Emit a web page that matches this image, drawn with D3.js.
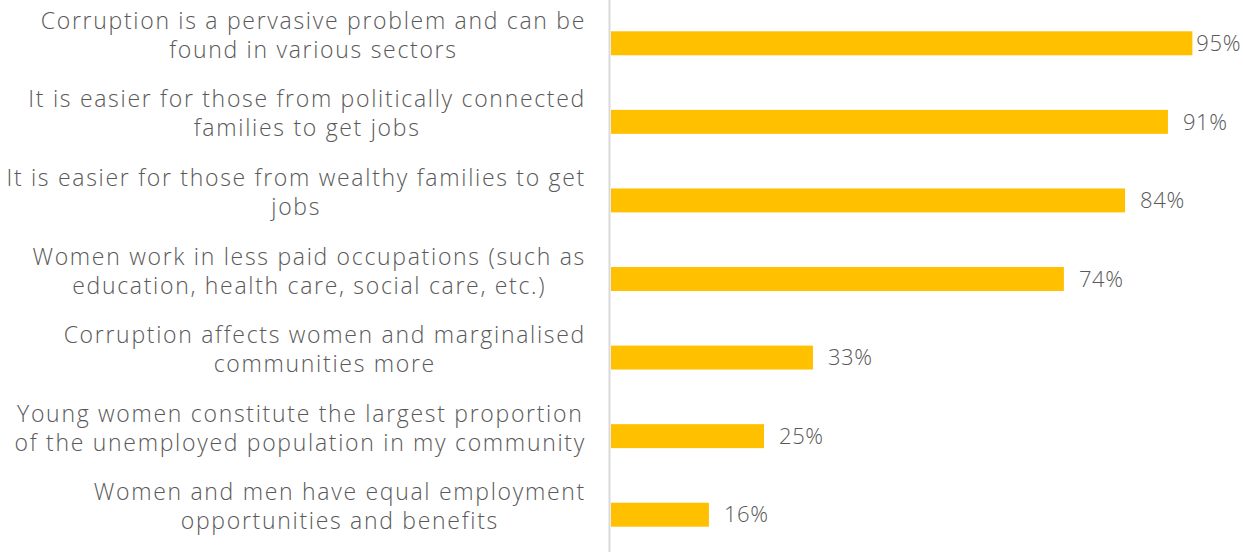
<!DOCTYPE html>
<html>
<head>
<meta charset="utf-8">
<script src="https://cdn.jsdelivr.net/npm/d3@7"></script>
<style>
  html, body { margin: 0; padding: 0; background: #fff; }
  svg { display: block; }
  text { font-family: "Open Sans", "DejaVu Sans", sans-serif; fill: #595959; font-weight: 300; }
</style>
</head>
<body>
<svg id="chart" width="1243" height="552"></svg>
<script>
// Survey statements (each split into its display lines) and share agreeing
const statements = [
  ["Corruption is a pervasive problem and can be", "found in various sectors"],
  ["It is easier for those from politically connected", "families to get jobs"],
  ["It is easier for those from wealthy families to get", "jobs"],
  ["Women work in less paid occupations (such as", "education, health care, social care, etc.)"],
  ["Corruption affects women and marginalised", "communities more"],
  ["Young women constitute the largest proportion", "of the unemployed population in my community"],
  ["Women and men have equal employment", "opportunities and benefits"]
];
const shares = [95, 91, 84, 74, 33, 25, 16];

const W = 1243, H = 552;
const svg = d3.select("#chart");

const x = d3.scaleLinear().domain([0, 100]).range([611, 1223]);
const y = d3.scaleBand()
  .domain(d3.range(statements.length))
  .range([4, 554])
  .paddingInner(0.695)
  .paddingOuter(0.3475);

// vertical category axis line
svg.append("line")
  .attr("x1", 609.5).attr("x2", 609.5)
  .attr("y1", 0).attr("y2", H)
  .attr("stroke", "#d9d9d9").attr("stroke-width", 2);

// bars
svg.selectAll("rect.bar")
  .data(shares)
  .join("rect")
  .attr("class", "bar")
  .attr("x", x(0))
  .attr("y", (d, i) => y(i))
  .attr("width", d => x(d) - x(0))
  .attr("height", y.bandwidth())
  .attr("fill", "#FFC000");

// value labels, kept inside the right edge
const vals = svg.selectAll("text.val")
  .data(shares)
  .join("text")
  .attr("class", "val")
  .attr("y", (d, i) => y(i) + y.bandwidth() / 2)
  .attr("dy", "0.35em")
  .style("font-size", "22px")
  .style("letter-spacing", "0.6px")
  .text(d => d + "%");
vals.each(function (d) {
  const w = this.getComputedTextLength();
  d3.select(this).attr("x", Math.min(x(d) + 15, W - w - 2));
});

// category labels: lines centred on each other, block right-aligned
const labelRight = 586;
const lineH = 29;
const groups = svg.selectAll("g.cat")
  .data(statements)
  .join("g")
  .attr("class", "cat");
groups.each(function (lines, i) {
  const g = d3.select(this);
  const cy = y(i) + y.bandwidth() / 2 - 8;
  const n = lines.length;
  const ts = g.selectAll("text")
    .data(lines)
    .join("text")
    .attr("text-anchor", "middle")
    .style("font-size", "23px")
    .style("letter-spacing", "1.7px")
    .attr("y", (d, k) => cy + (k - (n - 1) / 2) * lineH)
    .attr("dy", "0.35em")
    .text(d => d);
  let maxW = 0;
  ts.each(function () { maxW = Math.max(maxW, this.getComputedTextLength()); });
  ts.attr("x", labelRight - maxW / 2);
});
</script>
</body>
</html>
